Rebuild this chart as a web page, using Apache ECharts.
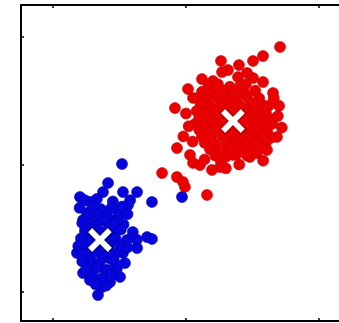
<!DOCTYPE html>
<html>
<head>
<meta charset="utf-8">
<script src="https://cdn.jsdelivr.net/npm/echarts@6/dist/echarts.min.js"></script>
<style>
  html, body { margin: 0; padding: 0; background: #fff; }
  #chart { width: 339px; height: 323px; }
</style>
</head>
<body>
<div id="chart"></div>
<script>
// Cluster A (red), [x, y]
const redPoints = [
  [1.707, 1.922], [1.579, 1.851], [1.504, 1.812], [1.263, 1.812], [1.398, 1.780],
  [1.316, 1.741], [1.271, 1.725], [1.459, 1.718], [1.203, 1.655], [1.391, 1.686],
  [1.504, 1.678], [1.579, 1.647], [1.015, 1.592], [1.053, 1.522], [0.917, 1.443],
  [1.128, 1.545], [1.654, 1.561], [1.684, 1.216], [0.932, 1.129], [1.030, 1.075],
  [1.053, 1.012], [0.820, 0.933], [0.932, 0.902], [0.977, 0.863], [0.992, 0.824],
  [1.158, 0.761], [1.195, 0.957], [1.256, 0.980], [1.105, 0.996], [1.353, 1.075],
  [1.481, 1.059], [1.534, 1.090], [1.609, 1.114],
  [1.17, 1.62], [1.24, 1.63], [1.33, 1.61], [1.41, 1.62],
  [1.12, 1.57], [1.20, 1.56], [1.28, 1.58], [1.36, 1.57], [1.44, 1.56], [1.52, 1.58],
  [1.09, 1.52], [1.15, 1.51], [1.23, 1.53], [1.31, 1.52], [1.38, 1.51], [1.46, 1.53], [1.55, 1.52],
  [1.11, 1.47], [1.18, 1.46], [1.26, 1.48], [1.33, 1.47], [1.41, 1.46], [1.49, 1.48], [1.57, 1.47], [1.62, 1.46],
  [1.08, 1.42], [1.14, 1.41], [1.21, 1.43], [1.29, 1.42], [1.36, 1.41], [1.44, 1.43], [1.52, 1.42], [1.60, 1.41],
  [1.10, 1.37], [1.17, 1.36], [1.25, 1.38], [1.32, 1.37], [1.40, 1.36], [1.47, 1.38], [1.55, 1.37], [1.63, 1.36],
  [1.07, 1.32], [1.13, 1.31], [1.20, 1.33], [1.28, 1.32], [1.35, 1.31], [1.43, 1.33], [1.50, 1.32], [1.58, 1.31], [1.65, 1.32],
  [1.10, 1.27], [1.18, 1.26], [1.24, 1.28], [1.31, 1.27], [1.39, 1.26], [1.46, 1.28], [1.53, 1.27], [1.61, 1.26],
  [1.12, 1.22], [1.19, 1.21], [1.27, 1.23], [1.34, 1.22], [1.42, 1.21], [1.49, 1.23], [1.57, 1.22], [1.64, 1.21],
  [1.14, 1.17], [1.22, 1.16], [1.30, 1.18], [1.37, 1.17], [1.45, 1.16], [1.52, 1.18], [1.60, 1.17],
  [1.18, 1.12], [1.26, 1.11], [1.33, 1.13], [1.41, 1.12], [1.49, 1.11], [1.56, 1.13],
  [1.22, 1.07], [1.30, 1.06], [1.38, 1.08], [1.46, 1.07],
  [1.00, 1.40], [1.02, 1.30], [0.98, 1.22], [1.05, 1.18], [1.69, 1.38], [1.72, 1.29],
  [1.70, 1.46], [1.66, 1.52], [1.12, 1.67], [1.45, 1.63], [1.26, 1.03], [1.40, 1.00],
  [1.14, 1.04], [1.58, 1.03], [1.30, 0.97]
];

// Cluster B (blue), [x, y]
const bluePoints = [
  [0.519, 1.004], [0.414, 0.855], [0.632, 0.784], [0.526, 0.784], [0.376, 0.784],
  [0.203, 0.745], [0.744, 0.706], [0.278, 0.706], [0.564, 0.682], [0.481, 0.643],
  [0.256, 0.620], [0.391, 0.627], [0.226, 0.565], [0.466, 0.565], [0.331, 0.541],
  [0.707, 0.431], [0.744, 0.416], [0.556, 0.408], [0.256, 0.424], [0.632, 0.345],
  [0.180, 0.306], [0.526, 0.306], [0.256, 0.275], [0.414, 0.267], [0.541, 0.227],
  [0.301, 0.188], [0.226, 0.149], [0.504, 0.118], [0.429, 0.078], [0.278, 0.094],
  [0.368, 0.039], [0.338, -0.024], [0.406, 0.173], [0.970, 0.745],
  [0.24, 0.72], [0.33, 0.73], [0.45, 0.71], [0.58, 0.72],
  [0.20, 0.66], [0.30, 0.67], [0.36, 0.65], [0.44, 0.66], [0.52, 0.67],
  [0.27, 0.60], [0.34, 0.61], [0.41, 0.59], [0.50, 0.60], [0.56, 0.61],
  [0.22, 0.54], [0.28, 0.53], [0.40, 0.55], [0.47, 0.54], [0.53, 0.53],
  [0.24, 0.48], [0.31, 0.49], [0.37, 0.47], [0.44, 0.48], [0.51, 0.49], [0.60, 0.47],
  [0.21, 0.42], [0.29, 0.41], [0.40, 0.43], [0.47, 0.42], [0.63, 0.41],
  [0.19, 0.36], [0.26, 0.37], [0.33, 0.35], [0.42, 0.36], [0.50, 0.37], [0.56, 0.35],
  [0.23, 0.30], [0.31, 0.31], [0.37, 0.29], [0.47, 0.30],
  [0.22, 0.24], [0.28, 0.25], [0.35, 0.23], [0.46, 0.24],
  [0.25, 0.18], [0.33, 0.19], [0.40, 0.17], [0.48, 0.18],
  [0.30, 0.12], [0.37, 0.11], [0.44, 0.13],
  [0.32, 0.06], [0.40, 0.05]
];

// Cluster centres
const redCentre = [[1.353, 1.341]];
const blueCentre = [[0.353, 0.408]];

const tickValues = [0, 1, 2];

// Thick diagonal cross used for the centre markers
const crossPath = 'path://M20,0 L50,30 L80,0 L100,20 L70,50 L100,80 L80,100 L50,70 L20,100 L0,80 L30,50 L0,20 Z';

function frameAxis(extra) {
  return Object.assign({
    type: 'value',
    axisLine: { show: true, onZero: false, lineStyle: { color: '#000', width: 2 } },
    axisTick: { show: true, inside: true, length: 3, customValues: tickValues,
                lineStyle: { color: '#000', width: 1.5 } },
    axisLabel: { show: false },
    splitLine: { show: false }
  }, extra);
}

const chart = echarts.init(document.getElementById('chart'), null, { renderer: 'canvas' });
chart.setOption({
  backgroundColor: '#fff',
  animation: false,
  // the plot frame runs past the right edge of the canvas
  grid: { left: 21, top: 5, width: 330, height: 316, containLabel: false, outerBoundsMode: 'none' },
  xAxis: [
    frameAxis({ position: 'bottom', min: -0.2406, max: 2.2406 }),
    frameAxis({ position: 'top', min: -0.2406, max: 2.2406 })
  ],
  yAxis: [
    frameAxis({ position: 'left', min: -0.2275, max: 2.251 }),
    frameAxis({ position: 'right', min: -0.2275, max: 2.251 })
  ],
  series: [
    {
      type: 'scatter', data: redPoints, symbolSize: 11,
      itemStyle: { color: '#ea0000', borderColor: '#c40000', borderWidth: 0.6, opacity: 1 }
    },
    {
      type: 'scatter', data: bluePoints, symbolSize: 11,
      itemStyle: { color: '#0606dc', borderColor: '#0000a8', borderWidth: 0.6, opacity: 1 }
    },
    {
      type: 'scatter', data: redCentre, symbol: crossPath, symbolSize: 26, z: 5,
      itemStyle: { color: '#fff', borderColor: '#b80000', borderWidth: 1.6, opacity: 1 }
    },
    {
      type: 'scatter', data: blueCentre, symbol: crossPath, symbolSize: 26, z: 5,
      itemStyle: { color: '#fff', borderColor: '#00009a', borderWidth: 1.6, opacity: 1 }
    }
  ]
});
</script>
</body>
</html>
